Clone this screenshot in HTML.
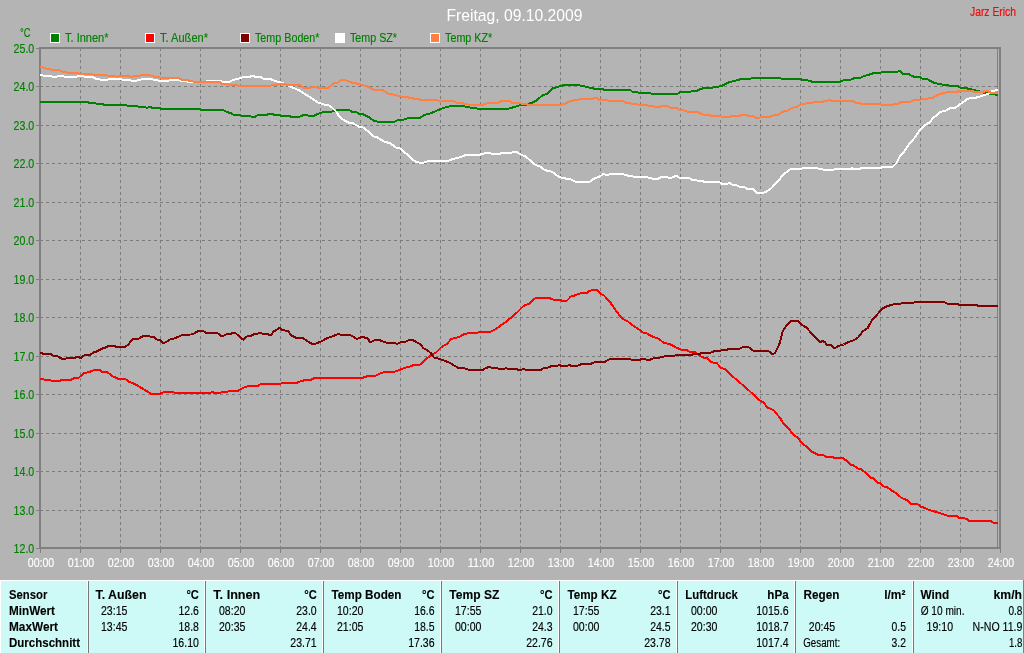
<!DOCTYPE html>
<html lang="de"><head><meta charset="utf-8"><title>Freitag, 09.10.2009</title>
<style>
html,body{margin:0;padding:0;background:#b4b4b4;overflow:hidden}
svg{display:block;font-family:"Liberation Sans",Arial,sans-serif;will-change:transform}
.s{font-size:12.5px}
.b{font-size:12.5px;font-weight:bold}
.g{fill:#008000;stroke:#008000}.w{fill:#fff;stroke:#fff}.k{fill:#000;stroke:#000}
text{stroke-width:.15px;stroke-linejoin:round}.b{stroke-width:.1px}
.ln{fill:none;stroke-width:2;stroke-linejoin:round;stroke-linecap:butt}
</style></head><body>
<svg width="1024" height="653" viewBox="0 0 1024 653">
<rect x="0" y="0" width="1024" height="653" fill="#b4b4b4"/>
<g stroke="#7c7c7c" stroke-width="1" stroke-dasharray="3 3" shape-rendering="crispEdges">
<line x1="40" y1="510.5" x2="999" y2="510.5"/>
<line x1="40" y1="471.5" x2="999" y2="471.5"/>
<line x1="40" y1="433.5" x2="999" y2="433.5"/>
<line x1="40" y1="394.5" x2="999" y2="394.5"/>
<line x1="40" y1="356.5" x2="999" y2="356.5"/>
<line x1="40" y1="317.5" x2="999" y2="317.5"/>
<line x1="40" y1="279.5" x2="999" y2="279.5"/>
<line x1="40" y1="240.5" x2="999" y2="240.5"/>
<line x1="40" y1="202.5" x2="999" y2="202.5"/>
<line x1="40" y1="163.5" x2="999" y2="163.5"/>
<line x1="40" y1="125.5" x2="999" y2="125.5"/>
<line x1="40" y1="86.5" x2="999" y2="86.5"/>
<line x1="80.5" y1="48" x2="80.5" y2="547"/>
<line x1="120.5" y1="48" x2="120.5" y2="547"/>
<line x1="160.5" y1="48" x2="160.5" y2="547"/>
<line x1="200.5" y1="48" x2="200.5" y2="547"/>
<line x1="240.5" y1="48" x2="240.5" y2="547"/>
<line x1="280.5" y1="48" x2="280.5" y2="547"/>
<line x1="320.5" y1="48" x2="320.5" y2="547"/>
<line x1="360.5" y1="48" x2="360.5" y2="547"/>
<line x1="400.5" y1="48" x2="400.5" y2="547"/>
<line x1="440.5" y1="48" x2="440.5" y2="547"/>
<line x1="480.5" y1="48" x2="480.5" y2="547"/>
<line x1="520.5" y1="48" x2="520.5" y2="547"/>
<line x1="560.5" y1="48" x2="560.5" y2="547"/>
<line x1="600.5" y1="48" x2="600.5" y2="547"/>
<line x1="640.5" y1="48" x2="640.5" y2="547"/>
<line x1="680.5" y1="48" x2="680.5" y2="547"/>
<line x1="720.5" y1="48" x2="720.5" y2="547"/>
<line x1="760.5" y1="48" x2="760.5" y2="547"/>
<line x1="800.5" y1="48" x2="800.5" y2="547"/>
<line x1="840.5" y1="48" x2="840.5" y2="547"/>
<line x1="880.5" y1="48" x2="880.5" y2="547"/>
<line x1="920.5" y1="48" x2="920.5" y2="547"/>
<line x1="960.5" y1="48" x2="960.5" y2="547"/>
</g>
<g fill="#808080" shape-rendering="crispEdges">
<rect x="39" y="47" width="962" height="2"/>
<rect x="39" y="547" width="962" height="2"/>
<rect x="39" y="47" width="2" height="502"/>
<rect x="999" y="47" width="2" height="502"/>
<rect x="997" y="49" width="1" height="498"/>
<rect x="36" y="548" width="3" height="1"/>
<rect x="36" y="510" width="3" height="1"/>
<rect x="36" y="471" width="3" height="1"/>
<rect x="36" y="433" width="3" height="1"/>
<rect x="36" y="394" width="3" height="1"/>
<rect x="36" y="356" width="3" height="1"/>
<rect x="36" y="317" width="3" height="1"/>
<rect x="36" y="279" width="3" height="1"/>
<rect x="36" y="240" width="3" height="1"/>
<rect x="36" y="202" width="3" height="1"/>
<rect x="36" y="163" width="3" height="1"/>
<rect x="36" y="125" width="3" height="1"/>
<rect x="36" y="86" width="3" height="1"/>
<rect x="36" y="48" width="3" height="1"/>
<rect x="40" y="549" width="1" height="4"/>
<rect x="80" y="549" width="1" height="4"/>
<rect x="120" y="549" width="1" height="4"/>
<rect x="160" y="549" width="1" height="4"/>
<rect x="200" y="549" width="1" height="4"/>
<rect x="240" y="549" width="1" height="4"/>
<rect x="280" y="549" width="1" height="4"/>
<rect x="320" y="549" width="1" height="4"/>
<rect x="360" y="549" width="1" height="4"/>
<rect x="400" y="549" width="1" height="4"/>
<rect x="440" y="549" width="1" height="4"/>
<rect x="480" y="549" width="1" height="4"/>
<rect x="520" y="549" width="1" height="4"/>
<rect x="560" y="549" width="1" height="4"/>
<rect x="600" y="549" width="1" height="4"/>
<rect x="640" y="549" width="1" height="4"/>
<rect x="680" y="549" width="1" height="4"/>
<rect x="720" y="549" width="1" height="4"/>
<rect x="760" y="549" width="1" height="4"/>
<rect x="800" y="549" width="1" height="4"/>
<rect x="840" y="549" width="1" height="4"/>
<rect x="880" y="549" width="1" height="4"/>
<rect x="920" y="549" width="1" height="4"/>
<rect x="960" y="549" width="1" height="4"/>
<rect x="1000" y="549" width="1" height="4"/>
</g>
<g class="ln" shape-rendering="crispEdges">
<polyline stroke="#008000" points="40.0,101.9 86.8,101.9 89.1,102.8 94.6,103.0 96.9,103.9 102.4,104.1 104.8,105.0 125.8,105.0 128.2,105.9 136.8,105.9 139.1,106.9 144.6,107.0 146.9,108.0 149.3,106.9 152.4,107.8 159.4,108.0 161.8,109.0 199.4,109.1 201.7,110.0 222.8,110.0 226.7,112.0 230.6,113.1 233.8,114.8 240.0,115.0 241.6,115.9 249.4,115.9 251.7,116.9 254.8,116.9 258.0,115.0 266.6,115.0 268.9,113.9 272.0,113.9 274.4,114.8 279.0,115.0 281.4,115.9 289.2,115.9 291.6,116.9 299.4,116.9 301.7,115.8 304.0,115.0 306.4,114.7 308.8,115.8 314.2,115.8 317.3,114.1 321.2,112.8 324.4,111.9 331.4,111.6 334.5,110.9 337.7,110.0 349.5,110.0 351.8,111.8 356.5,112.1 358.8,113.8 362.8,114.1 369.0,117.2 373.7,120.8 378.4,121.9 394.0,121.9 398.7,119.9 403.4,119.6 408.8,118.0 419.8,118.0 423.7,115.2 430.7,113.3 437.8,110.2 444.0,107.8 451.8,105.8 462.8,105.8 467.4,107.1 473.7,108.0 479.2,108.9 507.4,109.0 513.6,107.2 519.9,105.1 526.9,104.5 532.4,102.5 536.3,100.6 541.8,95.9 547.2,93.6 552.7,88.4 558.9,86.5 565.2,84.8 576.9,84.8 583.2,86.1 588.6,87.5 594.1,88.6 601.9,88.9 604.2,89.8 630.0,89.8 632.4,91.7 637.0,92.0 638.6,92.8 649.6,92.8 651.9,93.9 677.0,93.9 680.9,91.9 690.3,91.7 692.6,90.9 697.3,90.6 701.2,88.8 705.9,87.7 713.7,87.5 715.3,86.7 720.8,86.4 724.7,84.4 728.6,82.5 734.8,80.8 741.1,79.1 749.7,78.9 752.0,78.0 780.1,78.0 781.7,78.9 799.7,78.9 802.0,79.7 806.7,79.8 809.1,80.9 813.0,81.9 839.6,81.9 844.3,80.0 850.5,79.8 854.4,78.0 860.7,77.7 864.6,75.9 870.0,74.4 874.8,72.8 880.2,72.8 882.6,71.9 897.4,71.9 899.8,70.6 902.9,73.6 908.3,73.9 912.2,76.2 915.4,77.0 920.0,77.0 922.4,78.8 927.1,79.1 932.6,82.2 938.0,83.8 944.3,85.0 951.3,85.8 957.7,86.0 959.0,86.8 960.6,87.8 967.3,87.8 968.0,88.9 970.8,89.2 974.0,90.2 977.9,90.7 983.4,92.6 986.9,93.0 993.2,94.2 995.9,94.6 996.5,95.1 998.2,95.1"/>
<polyline stroke="#ff0000" points="40.0,379.1 43.8,379.5 50.0,379.8 51.6,380.8 60.2,380.8 61.8,379.8 71.2,379.8 74.3,378.0 79.0,377.5 83.7,373.3 88.3,372.3 94.6,370.0 100.0,370.0 102.4,372.0 107.1,372.0 112.6,376.2 118.0,378.8 125.0,378.8 129.8,382.2 134.4,383.8 142.2,388.4 150.8,393.6 160.2,393.6 164.9,391.9 172.7,391.9 175.1,392.8 196.0,392.9 210.3,393.0 212.2,391.7 214.2,393.0 220.5,393.0 222.0,391.9 227.5,391.9 229.0,390.9 237.7,390.9 241.6,388.6 248.6,385.8 258.0,385.8 261.1,383.9 280.6,383.9 282.2,382.8 297.0,382.8 300.9,381.1 305.6,380.0 311.1,379.7 314.2,378.0 350.0,377.9 362.8,377.7 367.4,376.2 375.2,375.8 379.2,373.8 384.6,371.9 394.8,371.6 399.5,370.0 404.2,368.0 409.6,366.7 414.3,364.8 420.6,364.5 423.7,360.9 427.6,357.8 431.5,354.7 436.2,352.3 441.7,346.9 447.1,343.8 451.0,339.1 454.9,338.0 459.6,336.7 463.5,334.4 469.0,333.0 477.6,332.8 479.2,332.0 490.1,331.9 495.6,329.2 500.2,325.8 505.0,322.6 511.3,317.5 517.5,312.0 523.8,305.8 530.0,303.4 533.2,299.5 536.3,298.0 549.6,298.0 553.5,299.8 560.5,300.0 562.1,300.8 566.8,300.8 570.7,296.7 575.3,295.2 578.5,293.8 582.4,292.8 587.1,292.8 589.4,290.9 591.8,290.2 597.2,290.2 601.1,294.1 604.2,295.6 610.5,302.7 613.6,307.3 619.9,315.9 623.8,319.5 627.7,321.4 633.9,326.1 638.6,329.2 643.3,332.7 646.4,333.1 650.3,335.5 655.0,337.5 659.0,339.0 663.7,342.8 670.0,344.1 676.2,347.5 681.7,349.8 687.2,350.3 690.3,352.2 695.8,352.5 702.0,357.2 706.7,358.1 711.4,362.3 716.8,363.1 720.8,367.8 725.4,369.4 731.7,375.6 739.5,382.2 748.9,390.5 759.0,399.8 763.4,402.5 767.5,407.5 774.0,410.4 780.3,418.4 783.4,423.4 790.5,430.9 793.6,434.8 797.5,437.5 803.0,444.2 806.1,446.2 812.3,452.0 817.8,454.7 823.3,455.0 826.4,456.9 832.7,457.0 834.2,458.0 842.8,458.0 845.9,460.3 851.4,465.0 853.8,465.6 857.7,468.4 860.8,469.2 866.2,473.1 870.9,477.6 873.3,478.1 878.0,482.9 880.4,483.3 884.1,486.7 887.3,487.1 892.3,491.0 895.9,492.9 901.9,498.2 907.2,500.1 910.5,503.6 917.2,503.8 920.5,506.5 924.5,507.8 928.4,509.8 933.1,511.1 938.4,512.7 943.7,514.5 948.4,515.8 957.0,516.0 959.0,517.8 963.6,518.0 967.0,519.1 969.0,520.8 990.2,520.8 993.5,522.8 998.2,522.8"/>
<polyline stroke="#800000" points="40.0,353.0 43.8,353.8 50.0,353.8 53.2,355.6 57.9,356.4 61.8,358.8 65.7,358.8 67.2,357.7 75.0,357.7 77.4,356.7 80.5,358.0 84.4,355.3 89.9,354.8 93.8,352.2 97.7,351.2 100.8,349.1 104.8,347.8 108.7,345.9 114.9,345.9 116.5,347.0 125.0,347.0 128.2,344.7 132.9,338.9 138.3,338.9 142.2,336.6 145.4,335.6 148.5,335.8 150.8,336.9 154.0,336.9 157.1,339.7 160.2,340.0 163.3,343.4 165.7,342.3 169.6,339.7 174.3,338.4 178.2,336.9 182.1,334.8 190.7,334.5 194.7,333.2 197.8,331.1 203.3,331.1 205.6,332.8 217.3,333.0 221.2,335.8 223.6,335.8 226.7,334.1 230.6,333.9 232.2,333.0 235.3,333.0 243.1,339.7 247.8,335.9 251.7,335.5 254.0,334.1 257.2,333.8 258.8,333.0 261.1,333.0 262.7,333.9 267.3,333.9 268.9,334.7 271.2,334.7 273.6,331.6 277.5,329.2 279.8,327.7 282.2,330.3 287.7,330.8 291.6,335.5 296.2,337.8 302.5,337.8 307.2,340.9 311.9,343.8 315.0,343.8 320.5,341.7 327.5,338.1 333.0,336.2 338.4,333.9 340.8,334.7 350.2,335.0 353.4,336.7 356.5,338.8 358.8,338.3 361.2,337.0 363.5,337.0 365.1,337.8 367.4,338.0 370.2,342.5 374.5,340.2 379.9,340.2 386.2,342.7 394.0,342.7 397.1,343.8 401.0,342.2 404.9,341.9 408.8,340.2 412.8,340.2 416.7,342.2 420.6,344.5 423.7,348.4 427.6,350.3 430.7,353.1 433.8,357.5 440.1,359.1 444.8,360.9 450.2,363.0 454.2,365.6 458.1,367.7 463.5,368.0 468.2,369.7 483.0,369.7 486.2,368.0 489.3,366.9 491.7,367.7 497.1,368.0 498.7,368.9 504.2,369.1 505.8,368.0 508.2,369.1 516.8,369.1 519.1,370.2 521.4,369.8 523.0,368.8 526.1,369.8 541.0,369.8 544.1,368.0 548.0,367.5 551.9,365.9 557.4,365.9 559.2,364.8 561.3,365.9 567.5,365.9 569.4,364.8 571.4,365.9 576.9,365.9 581.6,364.1 591.0,363.8 594.9,362.0 605.0,361.7 608.2,359.7 612.1,358.8 629.2,358.8 631.6,359.8 640.2,359.8 641.8,358.9 644.9,358.9 646.4,359.8 650.3,359.8 651.9,358.8 655.0,357.8 659.0,357.7 665.3,356.1 674.7,355.6 677.0,355.0 691.0,355.0 693.4,354.2 698.9,354.1 702.0,353.0 710.6,352.7 714.5,351.1 720.0,350.9 722.3,350.0 727.0,349.8 729.3,348.8 739.5,348.8 741.8,347.5 745.8,346.7 749.7,347.8 753.6,350.9 768.4,350.9 772.3,354.1 774.7,353.4 777.8,347.5 780.1,342.0 782.9,330.8 786.4,325.6 791.1,320.9 798.1,320.9 801.2,324.4 806.4,327.5 810.7,332.5 816.2,338.0 820.0,342.2 822.4,341.1 824.8,341.9 827.1,345.0 831.0,345.3 833.3,347.7 835.7,347.7 838.0,346.1 843.5,344.5 848.2,342.2 852.9,340.6 857.6,338.0 863.0,331.2 867.7,328.1 871.6,320.8 877.1,314.5 882.6,308.3 887.2,306.2 893.5,304.4 899.8,303.9 902.9,302.8 913.0,302.8 915.4,301.9 943.5,301.9 945.8,302.8 947.4,303.8 956.8,303.9 959.1,304.8 977.0,304.9 978.0,306.0 998.2,306.0"/>
<polyline stroke="#ffffff" points="40.0,75.4 41.5,75.2 46.9,76.4 56.3,76.6 60.2,75.8 64.1,76.6 76.6,76.6 80.5,75.8 84.4,76.6 92.2,76.9 96.2,78.8 101.6,79.8 107.1,79.7 110.2,78.9 120.4,79.1 123.5,79.8 129.8,80.2 132.1,80.9 136.8,80.6 142.2,79.1 150.8,79.1 154.8,80.0 159.4,80.8 168.8,80.6 173.5,79.8 178.2,80.0 182.1,80.9 190.7,81.9 205.0,81.9 208.0,80.8 219.7,80.8 222.0,81.7 229.8,81.7 233.0,80.0 238.4,78.8 243.9,76.9 250.2,76.6 252.5,75.6 254.8,76.6 261.1,76.9 263.4,78.8 270.5,79.1 275.2,81.1 282.2,82.8 286.9,85.0 293.1,87.8 299.4,90.5 305.6,94.4 310.3,97.2 315.0,100.6 318.1,102.5 322.8,104.2 329.1,105.6 332.2,107.7 336.1,111.6 340.0,117.5 343.9,120.2 348.7,122.7 353.4,123.5 358.8,126.6 363.5,127.7 369.0,132.1 373.7,136.4 377.6,137.5 383.8,141.4 390.1,143.3 396.3,147.7 400.2,148.5 404.2,152.4 408.1,154.7 412.0,159.4 415.9,161.8 419.8,162.8 423.7,162.5 429.2,161.0 439.3,160.5 448.7,160.5 453.4,158.9 460.4,157.1 465.9,154.9 479.9,154.7 485.4,153.2 490.1,153.2 492.4,153.9 498.7,153.9 503.5,152.9 511.3,152.8 513.6,152.0 516.8,152.0 520.7,154.5 526.1,156.8 531.6,161.8 535.5,165.0 540.2,166.6 544.5,170.0 551.9,171.8 558.9,177.0 565.9,178.6 570.6,179.4 576.1,181.9 589.4,181.9 594.1,178.6 599.5,176.6 603.4,173.9 606.6,175.0 610.5,174.1 623.0,174.1 628.4,175.8 634.7,176.7 646.4,176.9 648.8,177.8 654.2,179.1 657.3,179.1 662.0,176.9 666.7,176.9 669.1,177.8 671.4,177.8 676.1,175.8 680.0,178.0 689.5,178.1 691.8,179.8 696.5,180.2 698.0,180.9 702.8,181.1 704.3,182.0 719.2,182.0 722.3,183.9 727.0,183.9 729.3,182.8 732.4,184.7 736.3,185.0 739.5,186.9 744.2,187.2 747.3,188.8 752.8,188.9 757.4,193.0 762.1,193.0 766.0,191.9 770.7,188.8 774.6,184.8 779.3,179.4 784.0,173.9 790.2,169.4 800.4,169.1 802.8,168.1 816.8,168.1 819.2,169.1 822.3,169.4 824.6,170.0 832.4,170.0 834.8,169.1 850.0,169.1 852.0,168.3 854.4,169.1 859.9,169.1 861.4,168.1 880.2,168.0 882.5,167.0 892.7,166.9 896.6,162.8 899.7,156.6 904.4,151.1 909.1,144.1 914.6,137.8 920.0,130.0 924.7,125.3 930.2,121.9 933.3,117.5 937.2,115.0 940.3,112.0 945.8,110.5 949.7,108.4 955.5,107.5 960.4,104.0 968.0,98.6 977.3,97.4 982.8,95.5 988.3,93.9 991.6,91.4 996.5,90.0 998.2,90.0"/>
<polyline stroke="#ff8040" points="40.0,67.2 41.5,67.0 46.2,68.6 51.6,69.7 59.4,70.2 62.6,71.7 68.8,72.8 79.8,73.6 92.2,74.4 95.4,75.2 106.3,75.3 109.4,75.9 117.2,76.6 121.9,75.9 128.2,76.1 131.3,76.7 137.6,75.9 142.2,75.0 150.0,75.0 153.2,76.4 161.0,77.7 167.2,78.3 179.0,78.3 182.1,79.8 187.6,80.3 192.2,81.4 196.0,81.9 219.7,81.9 222.0,83.8 227.5,83.9 229.8,84.7 236.1,84.7 238.4,85.8 270.5,85.8 272.8,84.8 276.7,84.8 279.1,83.9 283.8,83.9 286.9,84.8 299.4,84.8 301.7,86.6 304.1,87.8 310.3,87.8 312.7,86.9 315.8,86.9 318.1,87.8 328.3,87.8 330.6,86.2 333.8,83.4 337.7,82.8 340.8,80.0 344.7,80.0 347.0,80.9 351.8,82.6 359.6,84.1 367.4,86.4 373.7,89.6 382.3,89.9 388.5,93.8 395.6,95.0 401.0,96.6 406.5,97.1 413.5,98.5 420.6,99.7 437.0,99.9 440.1,101.6 444.8,100.8 452.6,100.8 456.5,102.7 464.3,103.6 469.0,104.7 482.3,104.9 487.8,103.2 497.9,102.7 501.9,100.9 509.7,100.9 512.0,102.8 519.9,102.9 522.2,104.0 526.9,104.2 529.2,105.0 559.7,105.0 565.2,103.7 569.9,101.4 575.3,100.1 582.4,99.0 592.5,99.0 596.1,97.5 598.8,99.8 606.6,100.1 608.9,100.9 623.0,100.9 626.1,102.8 630.0,103.2 633.2,104.0 637.0,104.0 638.6,105.0 646.4,105.0 648.8,105.9 652.7,106.1 655.0,107.0 659.8,106.9 662.2,105.8 666.8,105.8 670.8,107.8 677.0,108.0 679.3,109.7 682.5,109.8 684.8,110.9 687.9,111.9 697.3,112.0 703.6,114.8 709.8,115.0 711.4,115.9 720.0,115.9 721.5,116.9 730.1,116.9 731.7,115.9 740.3,115.9 741.8,114.8 746.5,114.8 748.1,115.8 752.8,115.9 755.9,117.7 759.8,117.7 761.4,116.9 770.0,116.9 772.3,115.6 777.8,114.8 780.9,113.0 784.0,111.1 787.9,110.6 791.8,108.1 797.3,106.6 801.2,104.2 805.9,103.6 808.2,102.8 812.2,102.8 814.6,101.9 822.4,101.9 824.8,100.9 827.1,100.9 829.4,99.7 831.0,100.9 852.1,100.9 856.0,102.8 859.1,103.0 861.5,103.9 879.4,103.9 881.8,104.8 892.7,104.8 895.1,103.9 898.2,103.8 901.3,102.0 909.9,101.9 913.8,100.2 920.0,99.8 922.4,99.1 927.1,98.9 929.4,98.0 933.3,97.8 937.2,95.0 941.2,93.9 945.1,92.8 949.0,91.9 957.8,91.9 958.4,90.9 973.3,90.9 973.8,91.9 983.9,91.9 984.4,90.9 987.7,90.9 988.6,91.8 990.3,91.9 990.9,92.9 998.2,92.9"/>
</g>
<text x="514.5" y="21" text-anchor="middle" fill="#fff" font-size="16px" textLength="136" lengthAdjust="spacingAndGlyphs">Freitag, 09.10.2009</text>
<text x="970" y="16" fill="#f00" stroke="#f00" class="s" textLength="46" lengthAdjust="spacingAndGlyphs">Jarz Erich</text>
<text x="20" y="37" class="s g" textLength="10.5" lengthAdjust="spacingAndGlyphs">°C</text>
<rect x="50" y="33" width="10" height="10" fill="#fff" shape-rendering="crispEdges"/>
<rect x="51" y="34" width="8" height="8" fill="#008000" shape-rendering="crispEdges"/>
<text x="65" y="42" class="s g" textLength="43.5" lengthAdjust="spacingAndGlyphs">T. Innen*</text>
<rect x="145" y="33" width="10" height="10" fill="#fff" shape-rendering="crispEdges"/>
<rect x="146" y="34" width="8" height="8" fill="#ff0000" shape-rendering="crispEdges"/>
<text x="160" y="42" class="s g" textLength="48" lengthAdjust="spacingAndGlyphs">T. Außen*</text>
<rect x="240" y="33" width="10" height="10" fill="#fff" shape-rendering="crispEdges"/>
<rect x="241" y="34" width="8" height="8" fill="#800000" shape-rendering="crispEdges"/>
<text x="255" y="42" class="s g" textLength="64.5" lengthAdjust="spacingAndGlyphs">Temp Boden*</text>
<rect x="335" y="33" width="10" height="10" fill="#fff" shape-rendering="crispEdges"/>
<rect x="336" y="34" width="8" height="8" fill="#ffffff" shape-rendering="crispEdges"/>
<text x="350" y="42" class="s g" textLength="47" lengthAdjust="spacingAndGlyphs">Temp SZ*</text>
<rect x="430" y="33" width="10" height="10" fill="#fff" shape-rendering="crispEdges"/>
<rect x="431" y="34" width="8" height="8" fill="#ff8040" shape-rendering="crispEdges"/>
<text x="445" y="42" class="s g" textLength="47.3" lengthAdjust="spacingAndGlyphs">Temp KZ*</text>
<text x="34.3" y="553" class="s g" text-anchor="end" textLength="20.7" lengthAdjust="spacingAndGlyphs">12.0</text>
<text x="34.3" y="515" class="s g" text-anchor="end" textLength="20.7" lengthAdjust="spacingAndGlyphs">13.0</text>
<text x="34.3" y="476" class="s g" text-anchor="end" textLength="20.7" lengthAdjust="spacingAndGlyphs">14.0</text>
<text x="34.3" y="438" class="s g" text-anchor="end" textLength="20.7" lengthAdjust="spacingAndGlyphs">15.0</text>
<text x="34.3" y="399" class="s g" text-anchor="end" textLength="20.7" lengthAdjust="spacingAndGlyphs">16.0</text>
<text x="34.3" y="361" class="s g" text-anchor="end" textLength="20.7" lengthAdjust="spacingAndGlyphs">17.0</text>
<text x="34.3" y="322" class="s g" text-anchor="end" textLength="20.7" lengthAdjust="spacingAndGlyphs">18.0</text>
<text x="34.3" y="284" class="s g" text-anchor="end" textLength="20.7" lengthAdjust="spacingAndGlyphs">19.0</text>
<text x="34.3" y="245" class="s g" text-anchor="end" textLength="20.7" lengthAdjust="spacingAndGlyphs">20.0</text>
<text x="34.3" y="207" class="s g" text-anchor="end" textLength="20.7" lengthAdjust="spacingAndGlyphs">21.0</text>
<text x="34.3" y="168" class="s g" text-anchor="end" textLength="20.7" lengthAdjust="spacingAndGlyphs">22.0</text>
<text x="34.3" y="130" class="s g" text-anchor="end" textLength="20.7" lengthAdjust="spacingAndGlyphs">23.0</text>
<text x="34.3" y="91" class="s g" text-anchor="end" textLength="20.7" lengthAdjust="spacingAndGlyphs">24.0</text>
<text x="34.3" y="53" class="s g" text-anchor="end" textLength="20.7" lengthAdjust="spacingAndGlyphs">25.0</text>
<text x="41" y="567" class="s w" text-anchor="middle" textLength="26.5" lengthAdjust="spacingAndGlyphs">00:00</text>
<text x="81" y="567" class="s w" text-anchor="middle" textLength="26.5" lengthAdjust="spacingAndGlyphs">01:00</text>
<text x="121" y="567" class="s w" text-anchor="middle" textLength="26.5" lengthAdjust="spacingAndGlyphs">02:00</text>
<text x="161" y="567" class="s w" text-anchor="middle" textLength="26.5" lengthAdjust="spacingAndGlyphs">03:00</text>
<text x="201" y="567" class="s w" text-anchor="middle" textLength="26.5" lengthAdjust="spacingAndGlyphs">04:00</text>
<text x="241" y="567" class="s w" text-anchor="middle" textLength="26.5" lengthAdjust="spacingAndGlyphs">05:00</text>
<text x="281" y="567" class="s w" text-anchor="middle" textLength="26.5" lengthAdjust="spacingAndGlyphs">06:00</text>
<text x="321" y="567" class="s w" text-anchor="middle" textLength="26.5" lengthAdjust="spacingAndGlyphs">07:00</text>
<text x="361" y="567" class="s w" text-anchor="middle" textLength="26.5" lengthAdjust="spacingAndGlyphs">08:00</text>
<text x="401" y="567" class="s w" text-anchor="middle" textLength="26.5" lengthAdjust="spacingAndGlyphs">09:00</text>
<text x="441" y="567" class="s w" text-anchor="middle" textLength="26.5" lengthAdjust="spacingAndGlyphs">10:00</text>
<text x="481" y="567" class="s w" text-anchor="middle" textLength="26.5" lengthAdjust="spacingAndGlyphs">11:00</text>
<text x="521" y="567" class="s w" text-anchor="middle" textLength="26.5" lengthAdjust="spacingAndGlyphs">12:00</text>
<text x="561" y="567" class="s w" text-anchor="middle" textLength="26.5" lengthAdjust="spacingAndGlyphs">13:00</text>
<text x="601" y="567" class="s w" text-anchor="middle" textLength="26.5" lengthAdjust="spacingAndGlyphs">14:00</text>
<text x="641" y="567" class="s w" text-anchor="middle" textLength="26.5" lengthAdjust="spacingAndGlyphs">15:00</text>
<text x="681" y="567" class="s w" text-anchor="middle" textLength="26.5" lengthAdjust="spacingAndGlyphs">16:00</text>
<text x="721" y="567" class="s w" text-anchor="middle" textLength="26.5" lengthAdjust="spacingAndGlyphs">17:00</text>
<text x="761" y="567" class="s w" text-anchor="middle" textLength="26.5" lengthAdjust="spacingAndGlyphs">18:00</text>
<text x="801" y="567" class="s w" text-anchor="middle" textLength="26.5" lengthAdjust="spacingAndGlyphs">19:00</text>
<text x="841" y="567" class="s w" text-anchor="middle" textLength="26.5" lengthAdjust="spacingAndGlyphs">20:00</text>
<text x="881" y="567" class="s w" text-anchor="middle" textLength="26.5" lengthAdjust="spacingAndGlyphs">21:00</text>
<text x="921" y="567" class="s w" text-anchor="middle" textLength="26.5" lengthAdjust="spacingAndGlyphs">22:00</text>
<text x="961" y="567" class="s w" text-anchor="middle" textLength="26.5" lengthAdjust="spacingAndGlyphs">23:00</text>
<text x="1001" y="567" class="s w" text-anchor="middle" textLength="26.5" lengthAdjust="spacingAndGlyphs">24:00</text>
<g shape-rendering="crispEdges">
<rect x="0" y="580" width="1024" height="73" fill="#fff"/>
<rect x="1" y="581" width="1022" height="72" fill="#cdfaf6"/>
<rect x="1023" y="580" width="1" height="73" fill="#808080"/>
<rect x="87" y="581" width="1" height="72" fill="#fff"/>
<rect x="88" y="581" width="1" height="72" fill="#787878"/>
<rect x="204" y="581" width="1" height="72" fill="#fff"/>
<rect x="205" y="581" width="1" height="72" fill="#787878"/>
<rect x="322" y="581" width="1" height="72" fill="#fff"/>
<rect x="323" y="581" width="1" height="72" fill="#787878"/>
<rect x="440" y="581" width="1" height="72" fill="#fff"/>
<rect x="441" y="581" width="1" height="72" fill="#787878"/>
<rect x="558" y="581" width="1" height="72" fill="#fff"/>
<rect x="559" y="581" width="1" height="72" fill="#787878"/>
<rect x="676" y="581" width="1" height="72" fill="#fff"/>
<rect x="677" y="581" width="1" height="72" fill="#787878"/>
<rect x="794" y="581" width="1" height="72" fill="#fff"/>
<rect x="795" y="581" width="1" height="72" fill="#787878"/>
<rect x="912" y="581" width="1" height="72" fill="#fff"/>
<rect x="913" y="581" width="1" height="72" fill="#787878"/>
</g>
<text x="9" y="599" class="b k" textLength="38.3" lengthAdjust="spacingAndGlyphs">Sensor</text>
<text x="9" y="615" class="b k" textLength="46" lengthAdjust="spacingAndGlyphs">MinWert</text>
<text x="9" y="631" class="b k" textLength="49" lengthAdjust="spacingAndGlyphs">MaxWert</text>
<text x="9" y="647" class="b k" textLength="71" lengthAdjust="spacingAndGlyphs">Durchschnitt</text>
<text x="95.5" y="599" class="b k" textLength="51" lengthAdjust="spacingAndGlyphs">T. Außen</text>
<text x="198.9" y="599" class="b k" text-anchor="end" textLength="12.5" lengthAdjust="spacingAndGlyphs">°C</text>
<text x="101" y="615" class="s k" textLength="26.4" lengthAdjust="spacingAndGlyphs">23:15</text>
<text x="101" y="631" class="s k" textLength="26.4" lengthAdjust="spacingAndGlyphs">13:45</text>
<text x="198.9" y="615" class="s k" text-anchor="end" textLength="20.4" lengthAdjust="spacingAndGlyphs">12.6</text>
<text x="198.9" y="631" class="s k" text-anchor="end" textLength="20.4" lengthAdjust="spacingAndGlyphs">18.8</text>
<text x="198.9" y="647" class="s k" text-anchor="end" textLength="26.4" lengthAdjust="spacingAndGlyphs">16.10</text>
<text x="213.3" y="599" class="b k" textLength="47" lengthAdjust="spacingAndGlyphs">T. Innen</text>
<text x="316.7" y="599" class="b k" text-anchor="end" textLength="12.5" lengthAdjust="spacingAndGlyphs">°C</text>
<text x="219" y="615" class="s k" textLength="26.4" lengthAdjust="spacingAndGlyphs">08:20</text>
<text x="219" y="631" class="s k" textLength="26.4" lengthAdjust="spacingAndGlyphs">20:35</text>
<text x="316.7" y="615" class="s k" text-anchor="end" textLength="20.4" lengthAdjust="spacingAndGlyphs">23.0</text>
<text x="316.7" y="631" class="s k" text-anchor="end" textLength="20.4" lengthAdjust="spacingAndGlyphs">24.4</text>
<text x="316.7" y="647" class="s k" text-anchor="end" textLength="26.4" lengthAdjust="spacingAndGlyphs">23.71</text>
<text x="331.5" y="599" class="b k" textLength="70" lengthAdjust="spacingAndGlyphs">Temp Boden</text>
<text x="434.6" y="599" class="b k" text-anchor="end" textLength="12.5" lengthAdjust="spacingAndGlyphs">°C</text>
<text x="337" y="615" class="s k" textLength="26.4" lengthAdjust="spacingAndGlyphs">10:20</text>
<text x="337" y="631" class="s k" textLength="26.4" lengthAdjust="spacingAndGlyphs">21:05</text>
<text x="434.6" y="615" class="s k" text-anchor="end" textLength="20.4" lengthAdjust="spacingAndGlyphs">16.6</text>
<text x="434.6" y="631" class="s k" text-anchor="end" textLength="20.4" lengthAdjust="spacingAndGlyphs">18.5</text>
<text x="434.6" y="647" class="s k" text-anchor="end" textLength="26.4" lengthAdjust="spacingAndGlyphs">17.36</text>
<text x="449.3" y="599" class="b k" textLength="50" lengthAdjust="spacingAndGlyphs">Temp SZ</text>
<text x="552.6" y="599" class="b k" text-anchor="end" textLength="12.5" lengthAdjust="spacingAndGlyphs">°C</text>
<text x="455" y="615" class="s k" textLength="26.4" lengthAdjust="spacingAndGlyphs">17:55</text>
<text x="455" y="631" class="s k" textLength="26.4" lengthAdjust="spacingAndGlyphs">00:00</text>
<text x="552.6" y="615" class="s k" text-anchor="end" textLength="20.4" lengthAdjust="spacingAndGlyphs">21.0</text>
<text x="552.6" y="631" class="s k" text-anchor="end" textLength="20.4" lengthAdjust="spacingAndGlyphs">24.3</text>
<text x="552.6" y="647" class="s k" text-anchor="end" textLength="26.4" lengthAdjust="spacingAndGlyphs">22.76</text>
<text x="567.5" y="599" class="b k" textLength="49" lengthAdjust="spacingAndGlyphs">Temp KZ</text>
<text x="670.6" y="599" class="b k" text-anchor="end" textLength="12.5" lengthAdjust="spacingAndGlyphs">°C</text>
<text x="573" y="615" class="s k" textLength="26.4" lengthAdjust="spacingAndGlyphs">17:55</text>
<text x="573" y="631" class="s k" textLength="26.4" lengthAdjust="spacingAndGlyphs">00:00</text>
<text x="670.6" y="615" class="s k" text-anchor="end" textLength="20.4" lengthAdjust="spacingAndGlyphs">23.1</text>
<text x="670.6" y="631" class="s k" text-anchor="end" textLength="20.4" lengthAdjust="spacingAndGlyphs">24.5</text>
<text x="670.6" y="647" class="s k" text-anchor="end" textLength="26.4" lengthAdjust="spacingAndGlyphs">23.78</text>
<text x="685.3" y="599" class="b k" textLength="52.5" lengthAdjust="spacingAndGlyphs">Luftdruck</text>
<text x="788.6" y="599" class="b k" text-anchor="end" textLength="21.3" lengthAdjust="spacingAndGlyphs">hPa</text>
<text x="691" y="615" class="s k" textLength="26.4" lengthAdjust="spacingAndGlyphs">00:00</text>
<text x="691" y="631" class="s k" textLength="26.4" lengthAdjust="spacingAndGlyphs">20:30</text>
<text x="788.6" y="615" class="s k" text-anchor="end" textLength="32.4" lengthAdjust="spacingAndGlyphs">1015.6</text>
<text x="788.6" y="631" class="s k" text-anchor="end" textLength="32.4" lengthAdjust="spacingAndGlyphs">1018.7</text>
<text x="788.6" y="647" class="s k" text-anchor="end" textLength="32.4" lengthAdjust="spacingAndGlyphs">1017.4</text>
<text x="803.5" y="599" class="b k" textLength="35.8" lengthAdjust="spacingAndGlyphs">Regen</text>
<text x="905.5" y="599" class="b k" text-anchor="end" textLength="21.3" lengthAdjust="spacingAndGlyphs">l/m²</text>
<text x="808.8" y="631" class="s k" textLength="26.4" lengthAdjust="spacingAndGlyphs">20:45</text>
<text x="906" y="631" class="s k" text-anchor="end" textLength="14.4" lengthAdjust="spacingAndGlyphs">0.5</text>
<text x="803.3" y="647" class="s k" textLength="36.8" lengthAdjust="spacingAndGlyphs">Gesamt:</text>
<text x="906" y="647" class="s k" text-anchor="end" textLength="14.4" lengthAdjust="spacingAndGlyphs">3.2</text>
<text x="920.4" y="599" class="b k" textLength="28.7" lengthAdjust="spacingAndGlyphs">Wind</text>
<text x="1022" y="599" class="b k" text-anchor="end" textLength="28.5" lengthAdjust="spacingAndGlyphs">km/h</text>
<text x="920.7" y="615" class="s k" textLength="43.8" lengthAdjust="spacingAndGlyphs">Ø 10 min.</text>
<text x="1022.4" y="615" class="s k" text-anchor="end" textLength="14" lengthAdjust="spacingAndGlyphs">0.8</text>
<text x="926.6" y="631" class="s k" textLength="26.4" lengthAdjust="spacingAndGlyphs">19:10</text>
<text x="1022.4" y="631" class="s k" text-anchor="end" textLength="49.8" lengthAdjust="spacingAndGlyphs">N-NO 11.9</text>
<text x="1022.4" y="647" class="s k" text-anchor="end" textLength="13.4" lengthAdjust="spacingAndGlyphs">1.8</text>
</svg></body></html>
